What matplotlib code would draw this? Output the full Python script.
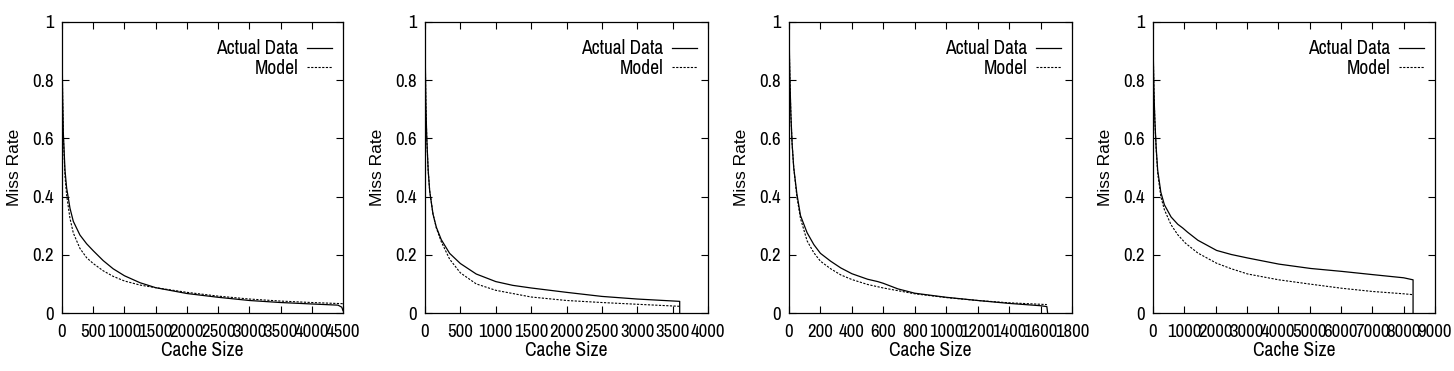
import matplotlib
matplotlib.use("Agg")
import matplotlib.pyplot as plt
from matplotlib.ticker import FuncFormatter, MultipleLocator

# ---------------- data ----------------
# Panel 1
x1_act = [0, 4, 10, 21, 48, 74, 128, 181, 287, 394, 500, 660, 819, 1000, 1250, 1500, 2000, 2500, 3000, 3500, 4000, 4420, 4480, 4500]
y1_act = [1.0, 0.86, 0.74, 0.62, 0.49, 0.43, 0.36, 0.315, 0.268, 0.238, 0.214, 0.18, 0.152, 0.128, 0.104, 0.087, 0.067, 0.054, 0.043, 0.036, 0.031, 0.027, 0.02, 0.008]
x1_mod = [0, 4, 10, 21, 48, 74, 128, 181, 287, 394, 500, 660, 819, 1000, 1250, 1500, 2000, 2500, 3000, 3500, 4000, 4500]
y1_mod = [1.0, 0.86, 0.74, 0.61, 0.47, 0.405, 0.325, 0.275, 0.222, 0.19, 0.17, 0.145, 0.126, 0.11, 0.096, 0.087, 0.071, 0.058, 0.048, 0.041, 0.036, 0.032]

# Panel 2
x2_act = [0, 5, 12, 25, 45, 66, 113, 160, 230, 348, 500, 724, 1000, 1240, 1500, 2000, 2500, 3000, 3600, 3600]
y2_act = [1.0, 0.85, 0.72, 0.6, 0.49, 0.42, 0.34, 0.295, 0.252, 0.205, 0.17, 0.134, 0.108, 0.095, 0.086, 0.071, 0.057, 0.048, 0.04, 0.0]
x2_mod = [0, 5, 12, 25, 45, 66, 113, 160, 230, 348, 500, 724, 1000, 1500, 2000, 2500, 3000, 3600]
y2_mod = [1.0, 0.85, 0.72, 0.6, 0.49, 0.42, 0.34, 0.292, 0.245, 0.185, 0.138, 0.1, 0.078, 0.055, 0.043, 0.036, 0.03, 0.023]

# Panel 3
x3_act = [0, 3, 6, 12, 20, 30, 50, 73, 115, 158, 200, 265, 329, 400, 500, 564, 600, 692, 800, 1000, 1200, 1400, 1600, 1640, 1645]
y3_act = [1.0, 0.88, 0.8, 0.68, 0.58, 0.5, 0.41, 0.335, 0.276, 0.235, 0.205, 0.178, 0.155, 0.135, 0.116, 0.108, 0.102, 0.083, 0.068, 0.054, 0.043, 0.033, 0.025, 0.022, 0.0]
x3_mod = [0, 3, 6, 12, 20, 30, 50, 73, 115, 158, 200, 265, 329, 400, 500, 600, 800, 1000, 1200, 1400, 1640]
y3_mod = [1.0, 0.88, 0.8, 0.68, 0.58, 0.5, 0.4, 0.325, 0.248, 0.207, 0.178, 0.152, 0.131, 0.115, 0.098, 0.086, 0.066, 0.053, 0.043, 0.035, 0.029]

# Panel 4
x4_act = [0, 10, 30, 60, 100, 150, 250, 363, 577, 790, 950, 1100, 1432, 2030, 2500, 3024, 4017, 5032, 6026, 7000, 8000, 8300, 8300]
y4_act = [1.0, 0.88, 0.76, 0.66, 0.57, 0.49, 0.415, 0.372, 0.33, 0.305, 0.292, 0.278, 0.25, 0.215, 0.201, 0.189, 0.168, 0.153, 0.143, 0.132, 0.121, 0.114, 0.0]
x4_mod = [0, 10, 30, 60, 100, 150, 250, 363, 577, 790, 1036, 1432, 2030, 2500, 3024, 4017, 5032, 6026, 7000, 8000, 8300]
y4_mod = [1.0, 0.88, 0.76, 0.66, 0.565, 0.48, 0.4, 0.355, 0.303, 0.269, 0.24, 0.206, 0.171, 0.152, 0.134, 0.114, 0.099, 0.085, 0.074, 0.066, 0.063]

panels = [
    (x1_act, y1_act, x1_mod, y1_mod, 4500, 500),
    (x2_act, y2_act, x2_mod, y2_mod, 4000, 500),
    (x3_act, y3_act, x3_mod, y3_mod, 1800, 200),
    (x4_act, y4_act, x4_mod, y4_mod, 9000, 1000),
]
legend_labels = ["Actual Data", "Model"]
x_label = "Cache Size"
y_label = "Miss Rate"

# ---------------- drawing ----------------
W, H = 1454, 371
fig = plt.figure(figsize=(W / 100, H / 100), dpi=100)

narrow = ["Archivo Narrow", "PT Sans Narrow", "Roboto Condensed", "Liberation Sans"]
regular = ["Liberation Sans", "DejaVu Sans"]

lefts = [62, 425, 789, 1153]
rights = [343, 708, 1072, 1435]
top, bottom = 22, 313

fmt = FuncFormatter(lambda v, p: "%g" % round(v, 6))

for (xa, ya, xm, ym, xmax, xstep), l, r in zip(panels, lefts, rights):
    ax = fig.add_axes([l / W, (H - bottom) / H, (r - l) / W, (bottom - top) / H])
    ax.plot(xa, ya, color="black", lw=0.9, label=legend_labels[0])
    ax.plot(xm, ym, color="black", lw=0.8, ls=(0, (2.0, 1.3)), label=legend_labels[1])
    ax.set_xlim(0, xmax)
    ax.set_ylim(0, 1)
    ax.xaxis.set_major_locator(MultipleLocator(xstep))
    ax.yaxis.set_major_locator(MultipleLocator(0.2))
    ax.xaxis.set_major_formatter(fmt)
    ax.yaxis.set_major_formatter(fmt)
    ax.tick_params(direction="in", length=5, width=0.8, top=True, right=True,
                   labelsize=13.5, colors="black")
    ax.tick_params(axis="x", pad=8)
    ax.tick_params(axis="y", pad=6)
    for lab in ax.get_xticklabels() + ax.get_yticklabels():
        lab.set_family(narrow)
    for s in ax.spines.values():
        s.set_linewidth(0.9)
    ax.set_xlabel(x_label, family=narrow, fontsize=14, labelpad=1)
    ax.set_ylabel(y_label, family=regular, fontsize=12.5, labelpad=7)
    ax.legend(loc="upper right", bbox_to_anchor=(0.962, 0.94), frameon=False,
              markerfirst=False, handlelength=1.3, handletextpad=0.45,
              borderaxespad=0, borderpad=0, labelspacing=0.02,
              prop={"family": narrow, "size": 14})

fig.savefig("out.png", dpi=100)
